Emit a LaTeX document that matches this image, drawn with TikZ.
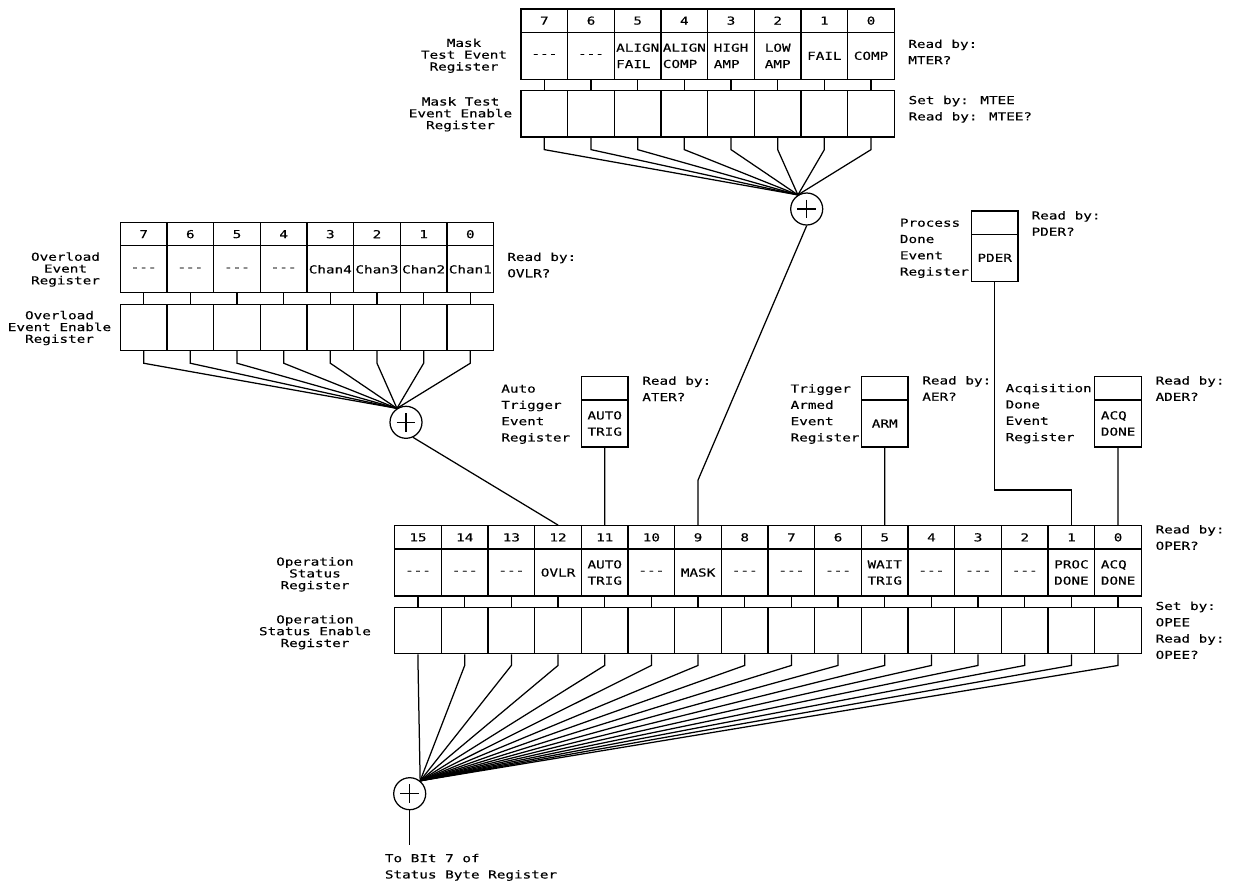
\documentclass[tikz,border=0pt]{standalone}
\usepackage{fontspec}
\usepackage{tikz}
\newfontfamily\plotfont[FakeStretch=1.3, FakeBold=0.3]{DejaVu Sans Mono}
\def\nobit{\mbox{-}\mbox{-}\mbox{-}}
\def\cw{46.67}

\begin{document}
\begin{tikzpicture}[x=1pt, y=-1pt, line width=1.25pt,
	font=\fontsize{11}{16.3}\selectfont\plotfont,
	bitnum/.style={draw, minimum width=\cw pt, minimum height=23.3pt, inner sep=0pt},
	bitbox/.style={draw, minimum width=\cw pt, minimum height=47pt, inner sep=0pt, align=left},
	enbox/.style={draw, minimum width=\cw pt, minimum height=46.3pt, inner sep=0pt},
	sum/.style={draw, circle, minimum size=32pt, inner sep=0pt,
		path picture={\draw (path picture bounding box.center) +(-9.3,0) -- +(9.3,0) +(0,-9.3) -- +(0,9.3);}},
	lbl/.style={anchor=west, inner sep=0pt, align=left},
	reglbl/.style={inner sep=0pt, align=center, font=\fontsize{11}{11.8}\selectfont\plotfont}]
	\useasboundingbox (0,0) rectangle (1233,884);
	% mask test event register
	\node[sum] (msum) at (806.7,209) {};
	\foreach \b/\t [count=\i from 0] in {7/\nobit, 6/\nobit, 5/{ALIGN\\FAIL}, 4/{ALIGN\\COMP}, 3/{HIGH\\AMP}, 2/{LOW\\AMP}, 1/FAIL, 0/COMP} {
		\node[bitnum] (mn\b) at (521+\i*\cw+\cw/2, 20.65) {\b};
		\node[bitbox] (mb\b) at (521+\i*\cw+\cw/2, 55.8) {\t};
		\node[enbox] (me\b) at (521+\i*\cw+\cw/2, 113.95) {};
		\draw (mb\b.south) -- (me\b.north);
		\draw (me\b.south) -- ++(0,11.9) -- (msum.122);
	}
	\node[reglbl] (mterl) at (464,55.7) {Mask\\Test Event\\Register};
	\node[reglbl] (mteel) at (460.5,114.3) {Mask Test\\Event Enable\\Register};
	\node[lbl] (mterr) at (907.7,51.9) {Read by:\\MTER?};
	\node[lbl] (mteer) at (908,109.2) {Set by: MTEE\\Read by: MTEE?};
	% overload event register
	\node[sum] (vsum) at (406,422.3) {};
	\foreach \b/\t [count=\i from 0] in {7/\nobit, 6/\nobit, 5/\nobit, 4/\nobit, 3/Chan4, 2/Chan3, 1/Chan2, 0/Chan1} {
		\node[bitnum] (vn\b) at (120.3+\i*\cw+\cw/2, 234.15) {\b};
		\node[bitbox] (vb\b) at (120.3+\i*\cw+\cw/2, 269.3) {\t};
		\node[enbox] (ve\b) at (120.3+\i*\cw+\cw/2, 327.45) {};
		\draw (vb\b.south) -- (ve\b.north);
		\draw (ve\b.south) -- ++(0,12) -- (vsum.123);
	}
	\node[reglbl] (ovlrl) at (65.5,269.5) {Overload\\Event\\Register};
	\node[reglbl] (ovlel) at (59.5,328) {Overload\\Event Enable\\Register};
	\node[lbl] (ovlrr) at (506.7,265) {Read by:\\OVLR?};
	% operation status register
	\node[sum] (ssum) at (409.7,793.7) {};
	\foreach \b/\t [count=\i from 0] in {15/\nobit, 14/\nobit, 13/\nobit, 12/OVLR, 11/{AUTO\\TRIG}, 10/\nobit, 9/MASK, 8/\nobit, 7/\nobit, 6/\nobit, 5/{WAIT\\TRIG}, 4/\nobit, 3/\nobit, 2/\nobit, 1/{PROC\\DONE}, 0/{ACQ\\DONE}} {
		\node[bitnum] (sn\b) at (394.7+\i*\cw+\cw/2, 537.35) {\b};
		\node[bitbox] (sb\b) at (394.7+\i*\cw+\cw/2, 572.5) {\t};
		\node[enbox] (se\b) at (394.7+\i*\cw+\cw/2, 630.65) {};
		\draw (sb\b.south) -- (se\b.north);
		\draw (se\b.south) -- ++(0,11) -- (ssum.51);
	}
	\node[reglbl] (operl) at (315,574.4) {Operation\\Status\\Register};
	\node[reglbl] (opeel) at (315,632.2) {Operation\\Status Enable\\Register};
	\node[lbl] (operr) at (1155,537.5) {Read by:\\OPER?};
	\node[lbl] (opeer) at (1155,630.3) {Set by:\\OPEE\\Read by:\\OPEE?};
	\coordinate (sbit7) at (409.7,845);
	\draw (ssum.south) -- (sbit7);
	\node[lbl] (sbitl) at (384.3,867.3) {To BIt 7 of\\Status Byte Register};
	% one bit registers
	\node[bitnum] (atn) at (604.7,388.35) {};
	\node[bitbox] (atb) at (604.7,423.5) {AUTO\\TRIG};
	\node[bitnum] (arn) at (884.7,388.35) {};
	\node[bitbox] (arb) at (884.7,423.5) {ARM};
	\node[bitnum] (acn) at (1118.1,388.35) {};
	\node[bitbox] (acb) at (1118.1,423.5) {ACQ\\DONE};
	\node[bitnum] (pdn) at (994.7,222.65) {};
	\node[bitbox] (pdb) at (994.7,257.8) {PDER};
	\node[lbl] (atl) at (500.7,414.2) {Auto\\Trigger\\Event\\Register};
	\node[lbl] (atr) at (641.7,388.7) {Read by:\\ATER?};
	\node[lbl] (arl) at (790,414) {Trigger\\Armed\\Event\\Register};
	\node[lbl] (arr) at (921.7,388.4) {Read by:\\AER?};
	\node[lbl] (acl) at (1005,413.6) {Acqisition\\Done\\Event\\Register};
	\node[lbl] (acr) at (1155,388.5) {Read by:\\ADER?};
	\node[lbl] (pdl) at (899.3,248.3) {Process\\Done\\Event\\Register};
	\node[lbl] (pdr) at (1031,223.4) {Read by:\\PDER?};
	% connections into the operation status register
	\coordinate (mbend) at (698.06,480);
	\draw (sn9.north) -- (mbend) -- (msum.south);
	\draw (vsum.-65) -- (sn12.north);
	\draw (atb.south) -- (sn11.north);
	\draw (arb.south) -- (sn5.north);
	\draw (acb.south) -- (sn0.north);
	\draw (pdb.south) -- ++(0,208) -| (sn1.north);
\end{tikzpicture}
\end{document}
